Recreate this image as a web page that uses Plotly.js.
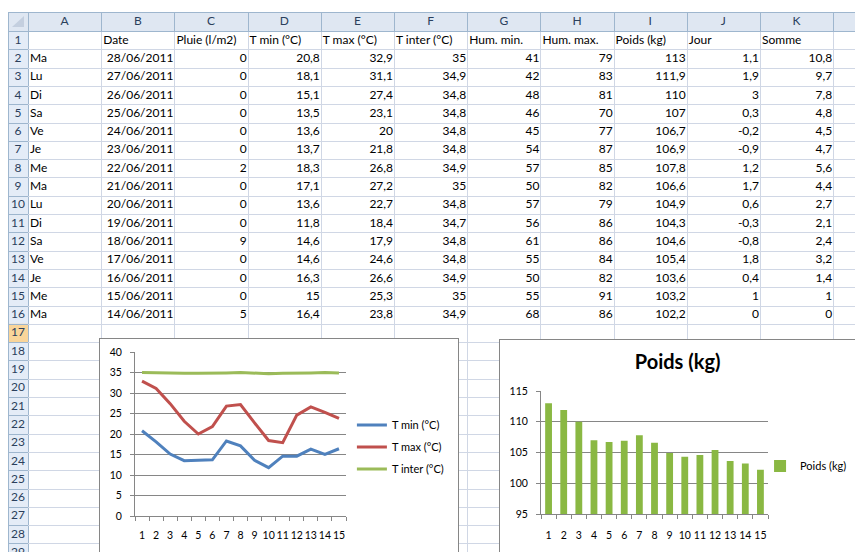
<!DOCTYPE html>
<html><head><meta charset="utf-8">
<script src="https://cdn.plot.ly/plotly-3.0.1.min.js"></script>
<style>
html,body{margin:0;padding:0;width:855px;height:552px;overflow:hidden;background:#fff;}
#sheet{position:absolute;left:0;top:0;width:855px;height:552px;}
#c1{position:absolute;left:99px;top:338px;width:358px;height:240px;border:1px solid #868686;background:#fff;overflow:hidden;}
#c2{position:absolute;left:499px;top:339px;width:400px;height:240px;border:1px solid #868686;background:#fff;overflow:hidden;}
</style></head><body>
<div id="sheet"></div><div id="c1"></div><div id="c2"></div>
<script>
// ---- data ----
const colLetters = ['A', 'B', 'C', 'D', 'E', 'F', 'G', 'H', 'I', 'J', 'K'];
const headers = ['', 'Date', 'Pluie (l/m2)', 'T min (°C)', 'T max (°C)', 'T inter (°C)', 'Hum. min.', 'Hum. max.', 'Poids (kg)', 'Jour', 'Somme'];
const days = ['Ma', 'Lu', 'Di', 'Sa', 'Ve', 'Je', 'Me', 'Ma', 'Lu', 'Di', 'Sa', 'Ve', 'Je', 'Me', 'Ma'];
const dates = ['28/06/2011', '27/06/2011', '26/06/2011', '25/06/2011', '24/06/2011', '23/06/2011', '22/06/2011', '21/06/2011', '20/06/2011', '19/06/2011', '18/06/2011', '17/06/2011', '16/06/2011', '15/06/2011', '14/06/2011'];
const pluie = [0, 0, 0, 0, 0, 0, 2, 0, 0, 0, 9, 0, 0, 0, 5];
const tmin = [20.8, 18.1, 15.1, 13.5, 13.6, 13.7, 18.3, 17.1, 13.6, 11.8, 14.6, 14.6, 16.3, 15, 16.4];
const tmax = [32.9, 31.1, 27.4, 23.1, 20, 21.8, 26.8, 27.2, 22.7, 18.4, 17.9, 24.6, 26.6, 25.3, 23.8];
const tinter = [35, 34.9, 34.8, 34.8, 34.8, 34.8, 34.9, 35, 34.8, 34.7, 34.8, 34.8, 34.9, 35, 34.9];
const humMin = [41, 42, 48, 46, 45, 54, 57, 50, 57, 56, 61, 55, 50, 55, 68];
const humMax = [79, 83, 81, 70, 77, 87, 85, 82, 79, 86, 86, 84, 82, 91, 86];
const poids = [113, 111.9, 110, 107, 106.7, 106.9, 107.8, 106.6, 104.9, 104.3, 104.6, 105.4, 103.6, 103.2, 102.2];
const jour = [1.1, 1.9, 3, 0.3, -0.2, -0.9, 1.2, 1.7, 0.6, -0.3, -0.8, 1.8, 0.4, 1, 0];
const somme = [10.8, 9.7, 7.8, 4.8, 4.5, 4.7, 5.6, 4.4, 2.7, 2.1, 2.4, 3.2, 1.4, 1, 0];
const xcats = ['1', '2', '3', '4', '5', '6', '7', '8', '9', '10', '11', '12', '13', '14', '15'];

// ---- sheet geometry (layout, not data) ----
const W = 855, H = 552;
const SX = 8, SY = 12, HDR = 19, RH = 18.3, RNW = 20, CW = 73.2;
const NROWS = 29;
const colEdge = k => SX + RNW + k * CW;          // left edge of column k (0 = A)
const rowEdge = r => SY + HDR + r * RH;          // bottom edge of row r (0 = header bottom)
const px = v => Math.round(v) + 0.5;
const fmt = v => String(v).replace('.', ',');
const dataCols = [days, dates, pluie, tmin, tmax, tinter, humMin, humMax, poids, jour, somme];

const shapes = [];
shapes.push({type: 'rect', layer: 'below', x0: SX, x1: W, y0: SY, y1: SY + HDR, fillcolor: '#dfe7f2', line: {width: 0}});
shapes.push({type: 'rect', layer: 'below', x0: SX, x1: SX + RNW, y0: SY + HDR, y1: H, fillcolor: '#e4ecf7', line: {width: 0}});
shapes.push({type: 'rect', layer: 'below', x0: SX, x1: SX + RNW, y0: rowEdge(16), y1: rowEdge(17), fillcolor: '#f9d59a', line: {width: 0}});
shapes.push({type: 'path', layer: 'below', path: `M ${SX + RNW - 4} ${SY + 4} L ${SX + RNW - 4} ${SY + HDR - 4} L ${SX + RNW - 16} ${SY + HDR - 4} Z`, fillcolor: '#c4cfdf', line: {width: 0}});
shapes.push({type: 'line', layer: 'below', x0: px(SX), x1: px(SX), y0: SY, y1: H, line: {color: '#9eb6ce', width: 1}});
for (let k = 0; k <= 11; k++) {
  const x = px(colEdge(k));
  shapes.push({type: 'line', layer: 'below', x0: x, x1: x, y0: SY, y1: SY + HDR, line: {color: '#9eb6ce', width: 1}});
  shapes.push({type: 'line', layer: 'below', x0: x, x1: x, y0: SY + HDR, y1: H, line: {color: k === 0 ? '#9eb6ce' : '#d0d7e5', width: 1}});
}
shapes.push({type: 'line', layer: 'below', x0: SX, x1: W, y0: px(SY), y1: px(SY), line: {color: '#9eb6ce', width: 1}});
for (let r = 0; r <= NROWS; r++) {
  const y = px(rowEdge(r));
  shapes.push({type: 'line', layer: 'below', x0: SX, x1: SX + RNW, y0: y, y1: y, line: {color: '#9eb6ce', width: 1}});
  shapes.push({type: 'line', layer: 'below', x0: SX + RNW, x1: W, y0: y, y1: y, line: {color: r === 0 ? '#9eb6ce' : '#d0d7e5', width: 1}});
}

// texts
const hdrX = colLetters.map((c, k) => colEdge(k) + CW / 2);
const hdrY = colLetters.map(() => SY + HDR / 2 + 0.5);
const rnText = [], rnX = [], rnY = [];
for (let r = 1; r <= NROWS; r++) { rnText.push(String(r)); rnX.push(SX + RNW / 2); rnY.push(rowEdge(r) - RH / 2 + 0.5); }
const lX = [], lY = [], lT = [], rX = [], rY = [], rT = [];
dataCols.forEach((d, c) => {
  if (headers[c]) { lX.push(colEdge(c) + 2); lY.push(rowEdge(1) - RH / 2 + 0.5); lT.push(headers[c]); }
  d.forEach((v, i) => {
    const y = rowEdge(i + 2) - RH / 2 + 0.5;
    if (c === 0) { lX.push(colEdge(c) + 2); lY.push(y); lT.push(fmt(v)); }
    else { rX.push(colEdge(c + 1) - 1); rY.push(y); rT.push(fmt(v)); }
  });
});
const cellFont = {family: 'Lato, sans-serif', size: 12, color: '#000'};
const hdrFont = {family: 'Lato, sans-serif', size: 12, color: '#2b3f5c'};
Plotly.newPlot('sheet', [
  {type: 'scatter', mode: 'text', x: hdrX, y: hdrY, text: colLetters, textposition: 'middle center', textfont: hdrFont, hoverinfo: 'skip'},
  {type: 'scatter', mode: 'text', x: rnX, y: rnY, text: rnText, textposition: 'middle center', textfont: hdrFont, hoverinfo: 'skip'},
  {type: 'scatter', mode: 'text', x: lX, y: lY, text: lT, textposition: 'middle right', textfont: cellFont, hoverinfo: 'skip'},
  {type: 'scatter', mode: 'text', x: rX, y: rY, text: rT, textposition: 'middle left', textfont: cellFont, hoverinfo: 'skip'}
], {
  width: W, height: H, margin: {l: 0, r: 0, t: 0, b: 0},
  paper_bgcolor: '#fff', plot_bgcolor: '#fff', showlegend: false,
  xaxis: {range: [0, W], visible: false, fixedrange: true},
  yaxis: {range: [H, 0], visible: false, fixedrange: true},
  shapes: shapes
}, {staticPlot: true, displayModeBar: false});

// ---- line chart ----
const axFont = {family: 'Lato, sans-serif', size: 10.5, color: '#000'};
const grid = '#868686';
Plotly.newPlot('c1', [
  {type: 'scatter', mode: 'lines', name: 'T min (°C)', x: xcats, y: tmin, line: {color: '#4f81bd', width: 3}, legendgroup: 'a'},
  {type: 'scatter', mode: 'lines', name: 'T max (°C)', x: xcats, y: tmax, line: {color: '#c0504d', width: 3}, legendgroup: 'b'},
  {type: 'scatter', mode: 'lines', name: 'T inter (°C)', x: xcats, y: tinter, line: {color: '#9bbb59', width: 3}, legendgroup: 'c'}
], {
  width: 430, height: 240,
  margin: {l: 35, r: 184, t: 13, b: 63},
  paper_bgcolor: '#fff', plot_bgcolor: '#fff',
  font: axFont,
  showlegend: true,
  legend: {x: 1.028, xanchor: 'left', y: 0.42, yanchor: 'middle', font: {family: 'Lato, sans-serif', size: 11, color: '#000'}, itemwidth: 30, tracegroupgap: 3, bgcolor: 'rgba(0,0,0,0)'},
  xaxis: {type: 'category', range: [-0.5, 14.5], tickangle: 0, showgrid: false, showline: true, linecolor: grid, linewidth: 1, ticks: 'outside', tickson: 'boundaries', ticklen: 4, tickcolor: grid, ticklabelstandoff: 9, tickfont: axFont, fixedrange: true, automargin: false},
  yaxis: {range: [0, 40], dtick: 5, showgrid: true, gridcolor: grid, gridwidth: 1, showline: true, linecolor: grid, ticks: 'outside', ticklen: 4, tickcolor: grid, ticklabelstandoff: 6, tickfont: axFont, zeroline: false, fixedrange: true, automargin: false}
}, {staticPlot: true, displayModeBar: false});

// ---- bar chart ----
Plotly.newPlot('c2', [
  {type: 'bar', name: 'Poids (kg)', x: xcats, y: poids, marker: {color: '#8ab843', line: {width: 0}}, showlegend: true}
], {
  width: 400, height: 240,
  margin: {l: 41, r: 132, t: 51, b: 66},
  paper_bgcolor: '#fff', plot_bgcolor: '#fff',
  font: axFont,
  bargap: 0.55,
  title: {text: 'Poids (kg)', font: {family: 'Lato, sans-serif', size: 20, color: '#000', weight: 'bold'}, xref: 'paper', x: 0.602, xanchor: 'center', yref: 'container', y: 1 - 22 / 240, yanchor: 'middle'},
  showlegend: true,
  legend: {x: 0.965, xanchor: 'left', y: 0.39, yanchor: 'middle', font: {family: 'Lato, sans-serif', size: 11, color: '#000'}, itemwidth: 30, bgcolor: 'rgba(0,0,0,0)'},
  xaxis: {type: 'category', range: [-0.5, 14.5], tickangle: 0, showgrid: false, showline: true, linecolor: grid, ticks: 'outside', tickson: 'boundaries', ticklen: 4, tickcolor: grid, ticklabelstandoff: 11, tickfont: axFont, fixedrange: true, automargin: false},
  yaxis: {range: [95, 115], dtick: 5, showgrid: true, gridcolor: grid, showline: true, linecolor: grid, ticks: 'outside', ticklen: 4, tickcolor: grid, ticklabelstandoff: 6, tickfont: axFont, zeroline: false, fixedrange: true, automargin: false}
}, {staticPlot: true, displayModeBar: false});
</script>
</body></html>
